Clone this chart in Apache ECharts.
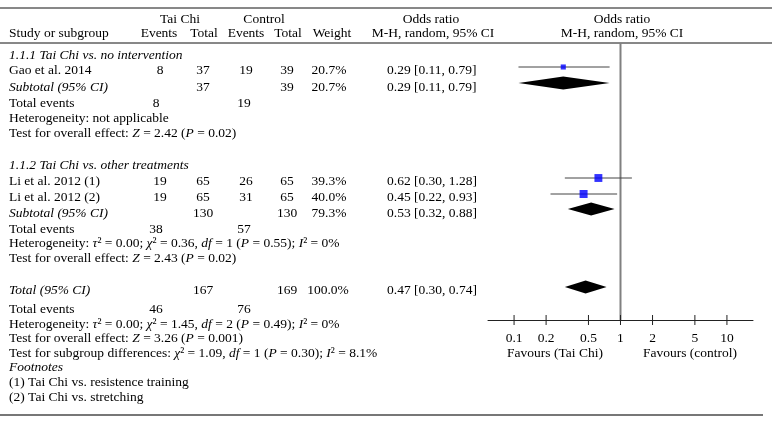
<!DOCTYPE html>
<html><head><meta charset="utf-8">
<script src="https://cdn.jsdelivr.net/npm/echarts@6/dist/echarts.min.js"></script>
<style>html,body{margin:0;padding:0;background:#fff}#c{width:772px;height:425px}</style>
</head><body><div id="c"></div>
<script>
// ---------------- data ----------------
const studies = ['Gao et al. 2014', 'Li et al. 2012 (1)', 'Li et al. 2012 (2)'];
const studyGroup = [0, 1, 1];
const taiChiEvents = [8, 19, 19];
const taiChiTotal = [37, 65, 65];
const controlEvents = [19, 26, 31];
const controlTotal = [39, 65, 65];
const studyWeight = [20.7, 39.3, 40.0];
const studyOR = [0.29, 0.62, 0.45];
const studyLow = [0.11, 0.30, 0.22];
const studyHigh = [0.79, 1.28, 0.93];

const groupTitles = ['1.1.1 Tai Chi vs. no intervention', '1.1.2 Tai Chi vs. other treatments'];
const groupTaiChiTotal = [37, 130];
const groupControlTotal = [39, 130];
const groupWeight = [20.7, 79.3];
const groupOR = [0.29, 0.53];
const groupLow = [0.11, 0.32];
const groupHigh = [0.79, 0.88];
const groupTaiChiEvents = [8, 38];
const groupControlEvents = [19, 57];
const groupHeterogeneity = [
  'Heterogeneity: not applicable',
  'Heterogeneity: {i|τ}² = 0.00; {i|χ}² = 0.36, {i|df} = 1 ({i|P} = 0.55); {i|I}² = 0%'
];
const groupEffect = [
  'Test for overall effect: {i|Z} = 2.42 ({i|P} = 0.02)',
  'Test for overall effect: {i|Z} = 2.43 ({i|P} = 0.02)'
];

const overallTotals = [167, 169];        // Tai Chi, Control
const overallEvents = [46, 76];          // Tai Chi, Control
const overallWeight = [100.0];
const overallOR = [0.47, 0.30, 0.74];    // estimate, low, high
const overallNotes = [
  'Heterogeneity: {i|τ}² = 0.00; {i|χ}² = 1.45, {i|df} = 2 ({i|P} = 0.49); {i|I}² = 0%',
  'Test for overall effect: {i|Z} = 3.26 ({i|P} = 0.001)',
  'Test for subgroup differences: {i|χ}² = 1.09, {i|df} = 1 ({i|P} = 0.30); {i|I}² = 8.1%'
];
const footnotes = ['(1) Tai Chi vs. resistence training', '(2) Tai Chi vs. stretching'];
const tickValues = [0.1, 0.2, 0.5, 1, 2, 5, 10];
const tickLabels = ['0.1', '0.2', '0.5', '1', '2', '5', '10'];
const favourLabels = ['Favours (Tai Chi)', 'Favours (control)'];

// ---------------- layout ----------------
const FONT = '"Liberation Serif", "DejaVu Serif", serif';
const FS = 13.5;
const X = { study: 9, tcEv: 160, tcTot: 203, coEv: 246, coTot: 287, wt: 329, or: 387, tevTc: 156, tevCo: 244,
            hTai: 180, hCon: 264, hOr: 431, hPlot: 622, fav: [555, 690] };
const ROWS = {
  head1: 19, head2: 33,
  groups: [
    { title: 55, studies: [70], sub: 87, ev: 103, het: 118, eff: 133 },
    { title: 165, studies: [181, 197], sub: 213, ev: 229, het: 243, eff: 258 }
  ],
  total: 290, tev: 309, notes: [324, 338, 353], foot: 367, fn: [382, 397], tick: 338, fav: 353
};
const MK = -3; // marker offset relative to text row
const AXIS_Y = 320;

// ---------------- build text items ----------------
const texts = [];
function T(x, y, t, a, it) { texts.push({ x, y, t: String(t), a: a || 'center', it: !!it }); }
const fmtCI = (o, l, h) => `${o.toFixed(2)} [${l.toFixed(2)}, ${h.toFixed(2)}]`;
const fmtW = w => w.toFixed(1) + '%';

T(X.hTai, ROWS.head1, 'Tai Chi'); T(X.hCon, ROWS.head1, 'Control');
T(X.hOr, ROWS.head1, 'Odds ratio'); T(X.hPlot, ROWS.head1, 'Odds ratio');
T(X.study, ROWS.head2, 'Study or subgroup', 'left');
T(X.tcEv - 1, ROWS.head2, 'Events'); T(X.tcTot + 1, ROWS.head2, 'Total');
T(X.coEv, ROWS.head2, 'Events'); T(X.coTot + 1, ROWS.head2, 'Total');
T(X.wt + 3, ROWS.head2, 'Weight');
T(X.hOr + 2, ROWS.head2, 'M-H, random, 95% CI'); T(X.hPlot, ROWS.head2, 'M-H, random, 95% CI');

const studyRowY = [];
groupTitles.forEach((title, g) => {
  const R = ROWS.groups[g];
  T(X.study, R.title, title, 'left', true);
  let k = 0;
  studies.forEach((s, i) => {
    if (studyGroup[i] !== g) return;
    const y = R.studies[k++];
    studyRowY[i] = y;
    T(X.study, y, s, 'left');
    T(X.tcEv, y, taiChiEvents[i]); T(X.tcTot, y, taiChiTotal[i]);
    T(X.coEv, y, controlEvents[i]); T(X.coTot, y, controlTotal[i]);
    T(X.wt, y, fmtW(studyWeight[i]));
    T(X.or, y, fmtCI(studyOR[i], studyLow[i], studyHigh[i]), 'left');
  });
  T(X.study, R.sub, 'Subtotal (95% CI)', 'left', true);
  T(X.tcTot, R.sub, groupTaiChiTotal[g]); T(X.coTot, R.sub, groupControlTotal[g]);
  T(X.wt, R.sub, fmtW(groupWeight[g]));
  T(X.or, R.sub, fmtCI(groupOR[g], groupLow[g], groupHigh[g]), 'left');
  T(X.study, R.ev, 'Total events', 'left');
  T(X.tevTc, R.ev, groupTaiChiEvents[g]); T(X.tevCo, R.ev, groupControlEvents[g]);
  T(X.study, R.het, groupHeterogeneity[g], 'left');
  T(X.study, R.eff, groupEffect[g], 'left');
});
T(X.study, ROWS.total, 'Total (95% CI)', 'left', true);
T(X.tcTot, ROWS.total, overallTotals[0]); T(X.coTot, ROWS.total, overallTotals[1]);
T(X.wt - 1, ROWS.total, fmtW(overallWeight[0]));
T(X.or, ROWS.total, fmtCI(overallOR[0], overallOR[1], overallOR[2]), 'left');
T(X.study, ROWS.tev, 'Total events', 'left');
T(X.tevTc, ROWS.tev, overallEvents[0]); T(X.tevCo, ROWS.tev, overallEvents[1]);
overallNotes.forEach((n, i) => T(X.study, ROWS.notes[i], n, 'left'));
T(X.study, ROWS.foot, 'Footnotes', 'left', true);
footnotes.forEach((f, i) => T(X.study, ROWS.fn[i], f, 'left'));
favourLabels.forEach((f, i) => T(X.fav[i], ROWS.fav, f));

// rules [x1, x2, y, color, width]
const rules = [[0, 772, 8, '#111', 1], [0, 772, 43, '#111', 1], [0, 763, 415, '#777', 2]];

// diamonds
const diamonds = groupOR.map((o, g) => [o, groupLow[g], groupHigh[g], ROWS.groups[g].sub + MK - 1]);
diamonds.push([overallOR[0], overallOR[1], overallOR[2], ROWS.total + MK]);

const RICH = { i: { fontStyle: 'italic', fontSize: FS, fontFamily: FONT, fill: '#000' } };

const chart = echarts.init(document.getElementById('c'), null, { renderer: 'canvas' });
chart.setOption({
  animation: false,
  backgroundColor: '#fff',
  grid: [
    { left: 0, top: 0, width: 772, height: 425, show: false },
    { left: 488, top: 43, width: 265, height: AXIS_Y - 43, show: false }
  ],
  xAxis: [
    { gridIndex: 0, type: 'value', min: 0, max: 772, show: false },
    { gridIndex: 1, type: 'log', logBase: 10, min: 0.0569, max: 17.58,
      axisLine: { show: true, lineStyle: { color: '#222', width: 1 } },
      axisTick: { show: false }, axisLabel: { show: false }, splitLine: { show: false } }
  ],
  yAxis: [
    { gridIndex: 0, type: 'value', min: 0, max: 425, inverse: true, show: false },
    { gridIndex: 1, type: 'value', min: 43, max: AXIS_Y, inverse: true, show: false }
  ],
  series: [
    { type: 'custom', xAxisIndex: 0, yAxisIndex: 0, silent: true,
      data: rules.map(r => [r[0], r[2]]),
      renderItem: (p, api) => {
        const r = rules[p.dataIndex];
        const a = api.coord([r[0], r[2]]), b = api.coord([r[1], r[2]]);
        return { type: 'line', shape: { x1: a[0], y1: a[1], x2: b[0], y2: b[1] },
                 style: { stroke: r[3], lineWidth: r[4] } };
      } },
    { type: 'custom', xAxisIndex: 0, yAxisIndex: 0, silent: true,
      data: texts.map(d => [d.x, d.y]),
      renderItem: (p, api) => {
        const d = texts[p.dataIndex];
        const pt = api.coord([d.x, d.y]);
        return { type: 'text', x: pt[0], y: pt[1],
                 style: { text: d.t, fill: '#000', fontSize: FS, fontFamily: FONT,
                          fontStyle: d.it ? 'italic' : 'normal',
                          align: d.a, verticalAlign: 'middle', rich: RICH } };
      } },
    // reference line at OR = 1
    { type: 'custom', xAxisIndex: 1, yAxisIndex: 1, silent: true,
      data: [[1, 43]],
      renderItem: (p, api) => {
        const a = api.coord([1, 43]), b = api.coord([1, AXIS_Y]);
        return { type: 'line', shape: { x1: a[0], y1: a[1], x2: b[0], y2: b[1] },
                 style: { stroke: '#808080', lineWidth: 2 } };
      } },
    // axis ticks + labels
    { type: 'custom', xAxisIndex: 1, yAxisIndex: 1, silent: true,
      data: tickValues.map(v => [v, AXIS_Y]),
      renderItem: (p, api) => {
        const v = tickValues[p.dataIndex];
        const a = api.coord([v, AXIS_Y]);
        const l = api.coord([v, ROWS.tick]);
        return { type: 'group', children: [
          { type: 'line', shape: { x1: a[0], y1: a[1] - 5, x2: a[0], y2: a[1] + 5 },
            style: { stroke: '#222', lineWidth: 1 } },
          { type: 'text', x: l[0], y: l[1],
            style: { text: tickLabels[p.dataIndex], fill: '#000', fontSize: FS, fontFamily: FONT,
                     align: 'center', verticalAlign: 'middle' } }
        ] };
      } },
    // confidence intervals
    { type: 'custom', xAxisIndex: 1, yAxisIndex: 1, silent: true,
      data: studies.map((s, i) => [studyOR[i], studyRowY[i] + MK]),
      renderItem: (p, api) => {
        const i = p.dataIndex, y = studyRowY[i] + MK;
        const a = api.coord([studyLow[i], y]), b = api.coord([studyHigh[i], y]);
        return { type: 'line', shape: { x1: a[0], y1: a[1], x2: b[0], y2: b[1] },
                 style: { stroke: '#444', lineWidth: 1 } };
      } },
    // study squares
    { type: 'scatter', xAxisIndex: 1, yAxisIndex: 1, silent: true, symbol: 'rect',
      data: studies.map((s, i) => [studyOR[i], studyRowY[i] + MK, studyWeight[i]]),
      symbolSize: v => 2 + 15 * v[2] / 100,
      itemStyle: { color: '#0000ff' } },
    // diamonds
    { type: 'custom', xAxisIndex: 1, yAxisIndex: 1, silent: true,
      data: diamonds.map(d => [d[0], d[3]]),
      renderItem: (p, api) => {
        const d = diamonds[p.dataIndex];
        const c = api.coord([d[0], d[3]]), l = api.coord([d[1], d[3]]), r = api.coord([d[2], d[3]]);
        const h = 6.5;
        return { type: 'polygon',
                 shape: { points: [[l[0], c[1]], [c[0], c[1] - h], [r[0], c[1]], [c[0], c[1] + h]] },
                 style: { fill: '#000' } };
      } }
  ]
});
</script></body></html>
